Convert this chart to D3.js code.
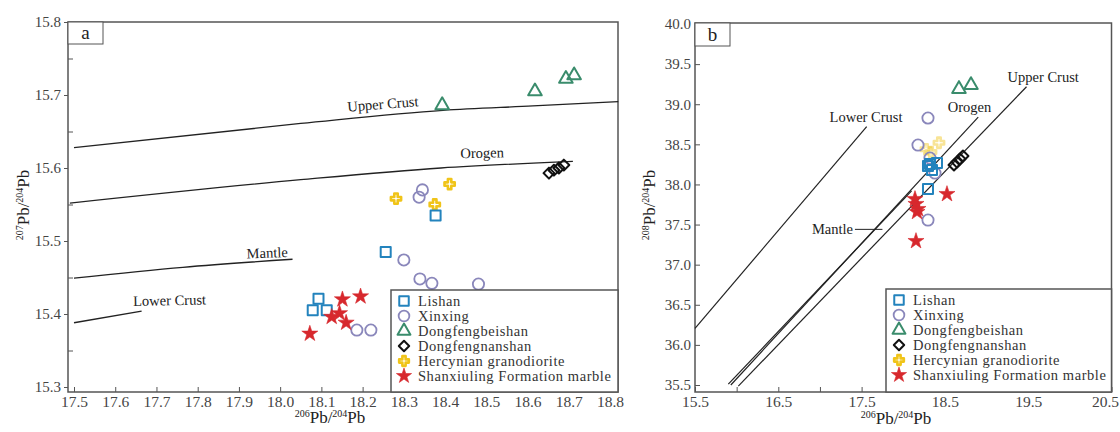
<!DOCTYPE html>
<html>
<head>
<meta charset="utf-8">
<script src="https://cdn.jsdelivr.net/npm/d3@7"></script>
<style>
  body { margin: 0; background: #fff; }
  svg { display: block; }
</style>
</head>
<body>
<svg id="chart" width="1120" height="432"></svg>
<script>
// ---- data: panel a (207Pb/204Pb vs 206Pb/204Pb) ----
var lishanA = [[18.377, 15.535], [18.256, 15.485], [18.093, 15.421], [18.079, 15.405], [18.113, 15.405]];
var xinxingA = [[18.345, 15.570], [18.337, 15.560], [18.300, 15.474], [18.339, 15.448], [18.368, 15.442], [18.481, 15.441], [18.186, 15.378], [18.220, 15.378]];
var beishanA = [[18.393, 15.686], [18.618, 15.705], [18.693, 15.722], [18.713, 15.727]];
var nanshanA = [[18.652, 15.593], [18.664, 15.597], [18.676, 15.600], [18.688, 15.604]];
var hercynianA = [[18.281, 15.558], [18.411, 15.578], [18.375, 15.550]];
var marbleA = [[18.072, 15.373], [18.151, 15.420], [18.195, 15.424], [18.125, 15.396], [18.144, 15.401], [18.160, 15.388]];

var upperCrustA = [[17.5, 15.628], [18.05, 15.661], [18.395, 15.679], [18.613, 15.685], [18.82, 15.691]];
var orogenA = [[17.49, 15.552], [18.05, 15.584], [18.39, 15.600], [18.71, 15.609]];
var mantleA = [[17.5, 15.449], [17.764, 15.464], [18.03, 15.475]];
var lowerCrustA = [[17.5, 15.388], [17.664, 15.404]];

// ---- data: panel b (208Pb/204Pb vs 206Pb/204Pb) ----
var lishanB = [[18.297, 38.229], [18.405, 38.267], [18.345, 38.180], [18.321, 38.254], [18.297, 37.943]];
var xinxingB = [[18.297, 38.828], [18.177, 38.491], [18.321, 38.329], [18.381, 38.142], [18.297, 37.556]];
var beishanB = [[18.669, 39.19], [18.813, 39.239]];
var nanshanB = [[18.609, 38.242], [18.645, 38.279], [18.681, 38.317], [18.717, 38.354]];
var hercynianB = [[18.429, 38.52], [18.273, 38.438], [18.333, 38.404]];
var marbleB = [[18.153, 37.756], [18.165, 37.656], [18.525, 37.880], [18.153, 37.294], [18.141, 37.818], [18.177, 37.693]];

var lowerCrustB = [[15.5, 36.206], [17.561, 38.72]];
var mantleB = [[15.90, 35.51], [18.1, 37.92]];
var orogenB = [[15.93, 35.5], [18.9, 38.84]];
var upperCrustB = [[16.02, 35.486], [19.48, 39.218]];

var xTicksA = d3.range(17.5, 18.81, 0.1);
var yMajorA = [15.3, 15.4, 15.5, 15.6, 15.7, 15.8];
var yMinorA = [15.35, 15.45, 15.55, 15.65, 15.75];
var xTicksB = d3.range(15.5, 20.51, 0.5);
var xLabelsB = [15.5, 16.5, 17.5, 18.5, 19.5, 20.5];
var yTicksB = d3.range(35.5, 40.01, 0.5);

var legendNames = ["Lishan", "Xinxing", "Dongfengbeishan", "Dongfengnanshan", "Hercynian granodiorite", "Shanxiuling Formation marble"];

var FONT = "'Liberation Serif', 'DejaVu Serif', 'Times New Roman', serif";

// ---- styles ----
var styles = {
    Lishan: { sym: d3.symbolSquare, size: 100, fill: "none", stroke: "#2383bd", sw: 2, rot: 0 },
    Xinxing: { sym: d3.symbolCircle, size: 100, fill: "none", stroke: "#8a87bb", sw: 1.8, rot: 0 },
    Dongfengbeishan: { sym: d3.symbolTriangle, size: 80, fill: "none", stroke: "#3a8c6c", sw: 2, rot: 0 },
    Dongfengnanshan: { sym: d3.symbolSquare, size: 60, fill: "none", stroke: "#111", sw: 2, rot: 45 },
    "Hercynian granodiorite": { sym: d3.symbolCross, size: 58, fill: "#fff", stroke: "#f0c419", sw: 2.6, rot: 0 },
    "Shanxiuling Formation marble": { sym: d3.symbolStar, size: 80, fill: "#d7282d", stroke: "#d7282d", sw: 0.6, rot: 0 }
};

var svg = d3.select("#chart").attr("font-family", FONT);

function sup(t, s) {
    // text like 207Pb/204Pb with superscripts
    t.append("tspan").attr("font-size", 10).attr("dy", -6).text(s[0]);
    t.append("tspan").attr("font-size", 17).attr("dy", 6).text("Pb/");
    t.append("tspan").attr("font-size", 10).attr("dy", -6).text(s[1]);
    t.append("tspan").attr("font-size", 17).attr("dy", 6).text("Pb");
}

function styleAxis(g, size) {
    g.attr("font-family", FONT).attr("font-size", size);
    g.select(".domain").remove();
    g.selectAll(".tick line").attr("stroke", "#555");
    g.selectAll(".tick text").attr("fill", "#444");
}

function drawPoints(g, x, y, data, name, faded) {
    var st = styles[name];
    g.selectAll(null)
        .data(data)
        .enter()
        .append("path")
        .attr("d", d3.symbol().type(st.sym).size(st.size))
        .attr("transform", d => "translate(" + x(d[0]) + "," + y(d[1]) + ") rotate(" + st.rot + ")")
        .attr("fill", st.fill)
        .attr("stroke", st.stroke)
        .attr("stroke-width", st.sw)
        .attr("stroke-linejoin", "round")
        .attr("opacity", faded ? 0.45 : 1);
}

function drawLegend(g, x0, y0, w, h) {
    g.append("rect")
        .attr("x", x0).attr("y", y0).attr("width", w).attr("height", h)
        .attr("fill", "#fff").attr("stroke", "#555").attr("stroke-width", 1.5);
    legendNames.forEach(function(n, i) {
        var st = styles[n];
        var yy = y0 + 11 + i * 15;
        g.append("path")
            .attr("d", d3.symbol().type(st.sym).size(st.size * 0.9))
            .attr("transform", "translate(" + (x0 + 13) + "," + yy + ") rotate(" + st.rot + ")")
            .attr("fill", st.fill).attr("stroke", st.stroke).attr("stroke-width", st.sw)
            .attr("stroke-linejoin", "round");
        g.append("text")
            .attr("x", x0 + 27).attr("y", yy + 5)
            .attr("font-size", 14.5).attr("fill", "#333")
            .attr("letter-spacing", 0.55)
            .text(n);
    });
}

var line = d3.line().curve(d3.curveMonotoneX);

// ================= panel a =================
var ax = d3.scaleLinear().domain([17.5, 18.8]).range([74, 610]);
var ay = d3.scaleLinear().domain([15.3, 15.8]).range([387, 22]);
var ga = svg.append("g");

ga.append("rect").attr("x", 68).attr("y", 22).attr("width", 550).attr("height", 370)
    .attr("fill", "none").attr("stroke", "#555").attr("stroke-width", 1.5);

ga.append("g").attr("transform", "translate(0,392)")
    .call(d3.axisBottom(ax).tickValues(xTicksA).tickSize(-5).tickPadding(4).tickFormat(d3.format(".1f")))
    .call(g => styleAxis(g, 15.5));
ga.append("g").attr("transform", "translate(68,0)")
    .call(d3.axisLeft(ay).tickValues(yMajorA).tickSize(4).tickPadding(3).tickFormat(d3.format(".1f")))
    .call(g => styleAxis(g, 15));
ga.append("g").attr("transform", "translate(68,0)")
    .call(d3.axisLeft(ay).tickValues(yMinorA).tickSize(-5).tickFormat(""))
    .call(g => styleAxis(g, 15));

[upperCrustA, orogenA, mantleA, lowerCrustA].forEach(function(c) {
    ga.append("path")
        .attr("d", line(c.map(d => [ax(d[0]), ay(d[1])])))
        .attr("fill", "none").attr("stroke", "#222").attr("stroke-width", 1.3);
});

var curveLabelsA = [["Upper Crust", 18.25, 15.681, -4.5], ["Orogen", 18.49, 15.614, -1.3], ["Mantle", 17.969, 15.477, -2.3], ["Lower Crust", 17.732, 15.412, -1.3]];
curveLabelsA.forEach(function(l) {
    ga.append("text")
        .attr("transform", "translate(" + ax(l[1]) + "," + ay(l[2]) + ") rotate(" + l[3] + ")")
        .attr("text-anchor", "middle").attr("font-size", 14.5).attr("fill", "#222")
        .text(l[0]);
});

drawPoints(ga, ax, ay, hercynianA, "Hercynian granodiorite");
drawPoints(ga, ax, ay, xinxingA, "Xinxing");
drawPoints(ga, ax, ay, lishanA, "Lishan");
drawPoints(ga, ax, ay, beishanA, "Dongfengbeishan");
drawPoints(ga, ax, ay, nanshanA, "Dongfengnanshan");
drawPoints(ga, ax, ay, marbleA, "Shanxiuling Formation marble");

drawLegend(ga, 391, 290, 227, 102);

ga.append("rect").attr("x", 68).attr("y", 22).attr("width", 35).attr("height", 22)
    .attr("fill", "#fff").attr("stroke", "#555").attr("stroke-width", 1);
ga.append("text").attr("x", 85.5).attr("y", 39).attr("text-anchor", "middle")
    .attr("font-size", 19).attr("fill", "#222").text("a");

var xlabA = ga.append("text").attr("x", 330).attr("y", 423).attr("text-anchor", "middle").attr("fill", "#222");
sup(xlabA, ["206", "204"]);
var ylabA = ga.append("text").attr("transform", "translate(29,205) rotate(-90)").attr("text-anchor", "middle").attr("fill", "#222");
sup(ylabA, ["207", "204"]);

// ================= panel b =================
var bx = d3.scaleLinear().domain([15.5, 20.5]).range([695, 1111.5]);
var by = d3.scaleLinear().domain([35.5, 40.0]).range([385, 24]);
var gb = svg.append("g");

gb.append("rect").attr("x", 695).attr("y", 23).attr("width", 416.5).attr("height", 369)
    .attr("fill", "none").attr("stroke", "#555").attr("stroke-width", 1.5);

gb.append("g").attr("transform", "translate(0,392)")
    .call(d3.axisBottom(bx).tickValues(xTicksB).tickSize(-5).tickPadding(4)
        .tickFormat(d => xLabelsB.some(v => Math.abs(v - d) < 1e-6) ? d3.format(".1f")(d) : ""))
    .call(g => styleAxis(g, 15.5))
    .call(g => g.selectAll(".tick:last-of-type text").attr("text-anchor", "end").attr("x", 7));
gb.append("g").attr("transform", "translate(695,0)")
    .call(d3.axisLeft(by).tickValues(yTicksB).tickSize(-5).tickPadding(4).tickFormat(d3.format(".1f")))
    .call(g => styleAxis(g, 15));

[lowerCrustB, mantleB, orogenB, upperCrustB].forEach(function(c) {
    gb.append("path")
        .attr("d", d3.line()(c.map(d => [bx(d[0]), by(d[1])])))
        .attr("fill", "none").attr("stroke", "#222").attr("stroke-width", 1.2);
});
// leader for Mantle label
gb.append("path")
    .attr("d", d3.line()([[bx(17.42), by(37.44)], [bx(17.75), by(37.44)]]))
    .attr("stroke", "#222").attr("stroke-width", 1);

var curveLabelsB = [["Lower Crust", 17.553, 38.78, "middle"], ["Orogen", 18.795, 38.903, "middle"], ["Upper Crust", 19.68, 39.277, "middle"], ["Mantle", 17.397, 37.38, "end"]];
curveLabelsB.forEach(function(l) {
    gb.append("text")
        .attr("x", bx(l[1])).attr("y", by(l[2]))
        .attr("text-anchor", l[3]).attr("font-size", 14.5).attr("fill", "#222")
        .text(l[0]);
});

drawPoints(gb, bx, by, hercynianB, "Hercynian granodiorite", true);
drawPoints(gb, bx, by, xinxingB, "Xinxing");
drawPoints(gb, bx, by, lishanB, "Lishan");
drawPoints(gb, bx, by, beishanB, "Dongfengbeishan");
drawPoints(gb, bx, by, nanshanB, "Dongfengnanshan");
drawPoints(gb, bx, by, marbleB, "Shanxiuling Formation marble");

drawLegend(gb, 886, 289, 225.5, 103);

gb.append("rect").attr("x", 695).attr("y", 23).attr("width", 35).attr("height", 23)
    .attr("fill", "#fff").attr("stroke", "#555").attr("stroke-width", 1);
gb.append("text").attr("x", 712.5).attr("y", 41).attr("text-anchor", "middle")
    .attr("font-size", 19).attr("fill", "#222").text("b");

var xlabB = gb.append("text").attr("x", 896).attr("y", 424).attr("text-anchor", "middle").attr("fill", "#222");
sup(xlabB, ["206", "204"]);
var ylabB = gb.append("text").attr("transform", "translate(655,205) rotate(-90)").attr("text-anchor", "middle").attr("fill", "#222");
sup(ylabB, ["208", "204"]);
</script>
</body>
</html>
